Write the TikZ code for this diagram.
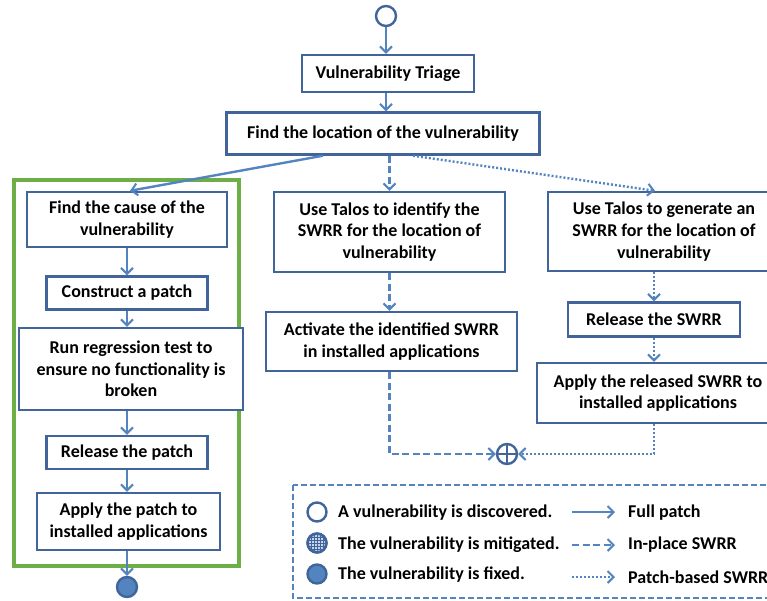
\documentclass[tikz,border=0pt]{standalone}
\usepackage{fontspec}
\setmainfont{Carlito}
\usetikzlibrary{arrows.meta,positioning,calc}

\definecolor{boxblue}{HTML}{41659A}
\definecolor{lineblue}{HTML}{5384C0}
\definecolor{greenframe}{HTML}{6DAE46}
\definecolor{gridfill}{HTML}{C6D6EC}

\tikzset{
  step box/.style={draw=boxblue,line width=2.4pt,fill=white,align=center,
    font=\fontsize{18}{21.7}\selectfont\bfseries,inner sep=2pt},
  flow/.style={draw=lineblue,line width=2.4pt,-{Straight Barb[length=6pt,width=12pt,line width=2pt]}},
  full/.style={flow},
  inplace/.style={flow,dash pattern=on 7pt off 3.5pt},
  patchbased/.style={flow,dash pattern=on 2pt off 2pt},
  state/.style={circle,draw=boxblue,line width=2.4pt,minimum size=20pt,inner sep=0pt},
  legend text/.style={anchor=west,font=\fontsize{18}{19}\selectfont\bfseries,inner sep=0pt}
}

\begin{document}
\begin{tikzpicture}[x=1pt,y=-1pt]
  \useasboundingbox (0,0) rectangle (767,600);

  % green frame round the full patch steps
  \draw[greenframe,line width=3.2pt] (14,180) rectangle (239,566);

  % start
  \node[state,fill=white] (start) at (386,16) {};
  \node[step box,minimum width=172pt,minimum height=37pt] (triage) at (388,73.5) {Vulnerability Triage};
  \node[step box,minimum width=313pt,minimum height=42pt] (loc) at (383,133.5) {Find the location of the vulnerability};

  % full patch
  \node[step box,minimum width=200pt,minimum height=55pt] (cause) at (127,219.5) {Find the cause of the\\vulnerability};
  \node[step box,minimum width=161pt,minimum height=33pt] (construct) at (127,293) {Construct a patch};
  \node[step box,minimum width=224pt,minimum height=82pt] (regress) at (131,369) {Run regression test to\\ensure no functionality is\\broken};
  \node[step box,minimum width=161pt,minimum height=33pt] (release) at (127,452.5) {Release the patch};
  \node[step box,minimum width=183pt,minimum height=57pt] (apply) at (128.5,521.5) {Apply the patch to\\installed applications};
  \node[state,fill=lineblue] (fixed) at (127,587) {};

  % in-place SWRR
  \node[step box,minimum width=231pt,minimum height=80pt] (ident) at (389.5,232) {Use Talos to identify the\\SWRR for the location of\\vulnerability};
  \node[step box,minimum width=251pt,minimum height=59pt] (activate) at (391.5,341.5) {Activate the identified SWRR\\in installed applications};

  % patch-based SWRR
  \node[step box,minimum width=232pt,minimum height=79pt] (gen) at (664,231.5) {Use Talos to generate an\\SWRR for the location of\\vulnerability};
  \node[step box,minimum width=172pt,minimum height=34pt] (relswrr) at (654,319.5) {Release the SWRR};
  \node[step box,minimum width=242pt,minimum height=60pt] (applyswrr) at (658,393) {Apply the released SWRR to\\installed applications};

  % mitigated
  \node[state,fill=white] (mitig) at (507,454) {};
  \draw[boxblue,line width=1.8pt] (mitig.north) -- (mitig.south) (mitig.west) -- (mitig.east);

  % connectors
  \draw[full] (start) -- (start |- triage.north);
  \draw[full] (triage.south -| start) -- (loc.north -| start);
  \coordinate (fromfull) at ($(loc.south)+(-60,0)$);
  \coordinate (fromdot) at ($(loc.south)+(30,0)$);
  \draw[full] (fromfull) -- ($(cause.north)+(3,0)$);
  \draw[inplace] (loc.south -| ident) -- (ident.north);
  \draw[patchbased] (fromdot) -- ($(gen.north)+(-9,0)$);
  \draw[full] (cause) -- (construct);
  \draw[full] (construct) -- (construct |- regress.north);
  \draw[full] (regress.south -| construct) -- (release);
  \draw[full] (release) -- (apply.north -| release);
  \draw[full] (apply.south -| fixed) -- (fixed);
  \draw[inplace] (ident) -- (ident |- activate.north);
  \draw[inplace] (activate.south -| ident) |- (mitig);
  \draw[patchbased] (gen.south -| relswrr) -- (relswrr);
  \draw[patchbased] (relswrr.south) -- (relswrr.south |- applyswrr.north);
  \draw[patchbased] (applyswrr.south -| relswrr) |- (mitig);

  % legend
  \draw[lineblue,line width=2.2pt,dash pattern=on 6pt off 3pt] (293,485) rectangle (790,598);
  \node[state,fill=white,minimum size=19pt] (lgstart) at (317,512) {};
  \node[state,fill=gridfill,minimum size=19pt] (lgmitig) at (317,543) {};
  \begin{scope}
    \clip (317,543) circle (8.5pt);
    \foreach \d in {-6,-3,0,3,6}{
      \draw[boxblue,line width=0.8pt] (317+\d,530) -- (317+\d,556);
      \draw[boxblue,line width=0.8pt] (304,543+\d) -- (330,543+\d);
    }
  \end{scope}
  \draw[boxblue,line width=2.4pt] (lgmitig) circle (9.5pt);
  \node[state,fill=lineblue,minimum size=19pt] (lgfixed) at (317,574) {};
  \node[legend text] (txstart) at (338,513) {A vulnerability is discovered.};
  \node[legend text] (txmitig) at (338,545) {The vulnerability is mitigated.};
  \node[legend text] (txfixed) at (338,575) {The vulnerability is fixed.};

  \coordinate (lga1) at (572,512);
  \coordinate (lgb1) at (615,512);
  \coordinate (lga2) at (572,545);
  \coordinate (lgb2) at (615,545);
  \coordinate (lga3) at (572,577);
  \coordinate (lgb3) at (615,577);
  \draw[full] (lga1) -- (lgb1);
  \draw[inplace] (lga2) -- (lgb2);
  \draw[patchbased] (lga3) -- (lgb3);
  \node[legend text] (txfull) at (628,513) {Full patch};
  \node[legend text] (txinplace) at (628,545) {In-place SWRR};
  \node[legend text] (txpatch) at (628,577) {Patch-based SWRR};
\end{tikzpicture}
\end{document}
